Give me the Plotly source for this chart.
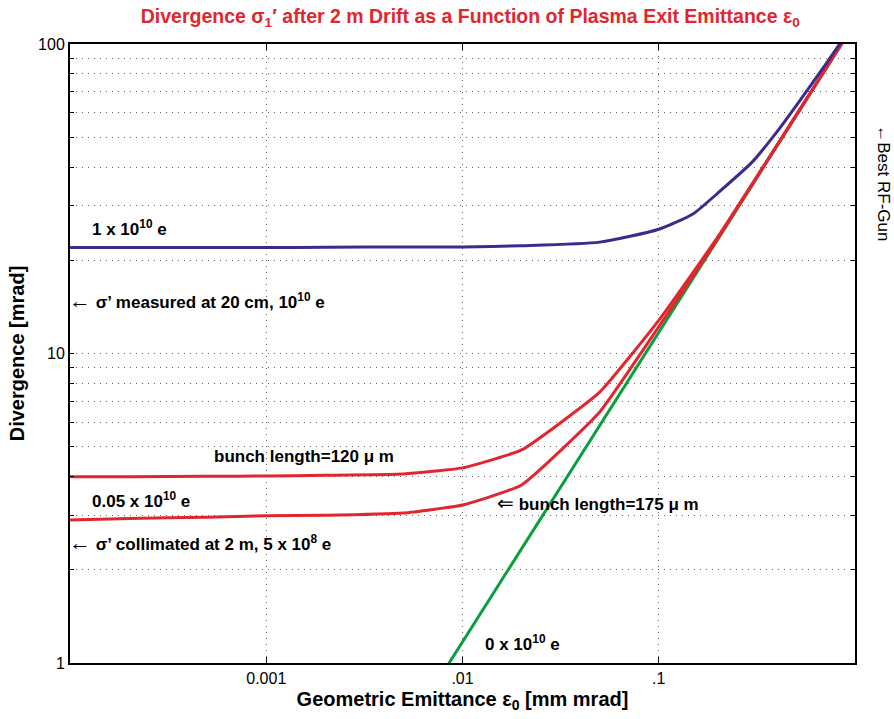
import plotly.graph_objects as go

# emittance sample points [mm mrad]
emit = [0.0001, 0.0002, 0.0005, 0.001, 0.002, 0.005, 0.01, 0.02, 0.05, 0.1, 0.2, 0.5, 1.0]
emit_1e10 = [0.0001, 0.0002, 0.0005, 0.001, 0.002, 0.005, 0.01, 0.02, 0.05, 0.1, 0.15, 0.2, 0.3, 0.4, 0.5, 0.7, 1.0]
# divergence [mrad]
div_1e10 = [22.0, 22.0, 22.0, 22.0, 22.05, 22.1, 22.1, 22.3, 22.9, 25.2, 28.3, 33.0, 41.6, 52.0, 63.0, 85.0, 118.0]
div_120um = [4.0, 4.0, 4.01, 4.02, 4.04, 4.08, 4.27, 4.88, 7.5, 12.8, 23.8, 58.8, 117.2]
div_175um = [2.90, 2.93, 2.96, 2.99, 3.0, 3.05, 3.24, 3.76, 6.47, 12.2, 23.5, 58.6, 117.1]
div_zero = [None, None, None, 0.117, 0.234, 0.585, 1.17, 2.34, 5.85, 11.7, 23.4, 58.5, 117.0]

x_tickvals = [0.001, 0.01, 0.1]
x_ticktext = ["0.001", ".01", ".1"]
y_tickvals = [1, 2, 3, 4, 5, 6, 7, 8, 9, 10, 20, 30, 40, 50, 60, 70, 80, 90, 100]
y_ticktext = ["1", "", "", "", "", "", "", "", "", "10", "", "", "", "", "", "", "", "", "100"]

BLUE = "#3d2a8c"
RED = "#e1262f"
GREEN = "#0b9e3c"
FONT = "Liberation Sans, Arial, Helvetica, sans-serif"

fig = go.Figure()
fig.add_trace(go.Scatter(x=emit, y=div_zero, mode="lines", line=dict(color=GREEN, width=3), showlegend=False))
fig.add_trace(go.Scatter(x=emit, y=div_175um, mode="lines", line=dict(color=RED, width=3, shape="spline", smoothing=0.4), showlegend=False))
fig.add_trace(go.Scatter(x=emit, y=div_120um, mode="lines", line=dict(color=RED, width=3, shape="spline", smoothing=0.4), showlegend=False))
fig.add_trace(go.Scatter(x=emit_1e10, y=div_1e10, mode="lines", line=dict(color=BLUE, width=3, shape="spline", smoothing=0.6), showlegend=False))

def ann(text, x, y, size=17, bold=True, xanchor="left", angle=0, color="black"):
    t = "<b>" + text + "</b>" if bold else text
    fig.add_annotation(text=t, x=x, y=y, xref="paper", yref="paper", showarrow=False,
                       xanchor=xanchor, yanchor="middle", textangle=angle,
                       font=dict(family=FONT, size=size, color=color))

ARROW = "<span style='font-weight:normal;font-size:22px'>\u2190</span>"
ann("1 x 10<sup>10</sup> e", 0.0255, 0.703)
ann(ARROW + " \u03c3\u2019 measured at 20 cm, 10<sup>10</sup> e", -0.004, 0.585)
ann("bunch length=120 \u03bc m", 0.181, 0.334)
ann("0.05 x 10<sup>10</sup> e", 0.0255, 0.263)
ann(ARROW + " \u03c3\u2019 collimated at 2 m, 5 x 10<sup>8</sup> e", -0.004, 0.194)
ann("<span style='font-weight:normal;font-size:20px'>\u21d0</span> bunch length=175 \u03bc m", 0.542, 0.258)
ann("0 x 10<sup>10</sup> e", 0.526, 0.032)
ann("\u2190Best RF-Gun", 1.037, 0.775, size=17, bold=False, xanchor="center", angle=90)

fig.update_layout(
    width=894, height=719,
    margin=dict(l=70, r=39, t=44, b=56),
    paper_bgcolor="white", plot_bgcolor="white",
    font=dict(family=FONT, size=16, color="black"),
    title=dict(text="<b>Divergence \u03c3<sub>1</sub>\u2032 after 2 m Drift as a Function of Plasma Exit Emittance \u03b5<sub>0</sub></b>",
               x=0.526, xanchor="center", y=0.977, yanchor="middle",
               font=dict(family=FONT, size=19.5, color=RED)),
    xaxis=dict(type="log", range=[-4, 0], tickvals=x_tickvals, ticktext=x_ticktext,
               showgrid=True, gridcolor="#666666", griddash="1px,5px", gridwidth=1,
               showline=True, linecolor="black", linewidth=2, mirror="ticks",
               ticks="inside", ticklen=6, tickcolor="black", zeroline=False,
               tickfont=dict(size=16), automargin=False,
               title=dict(text="<b>Geometric Emittance \u03b5<sub>0</sub> [mm mrad]</b>", font=dict(size=20), standoff=6)),
    yaxis=dict(type="log", range=[0, 2], tickvals=y_tickvals, ticktext=y_ticktext,
               showgrid=True, gridcolor="#666666", griddash="1px,5px", gridwidth=1,
               showline=True, linecolor="black", linewidth=2, mirror="ticks",
               ticks="inside", ticklen=4, tickcolor="black", zeroline=False,
               tickfont=dict(size=16), automargin=False,
               title=dict(text="<b>Divergence [mrad]</b>", font=dict(size=20), standoff=8)),
)

fig.write_html("out.html", config={"displayModeBar": False},
               post_script="document.body.style.margin='0px';")
